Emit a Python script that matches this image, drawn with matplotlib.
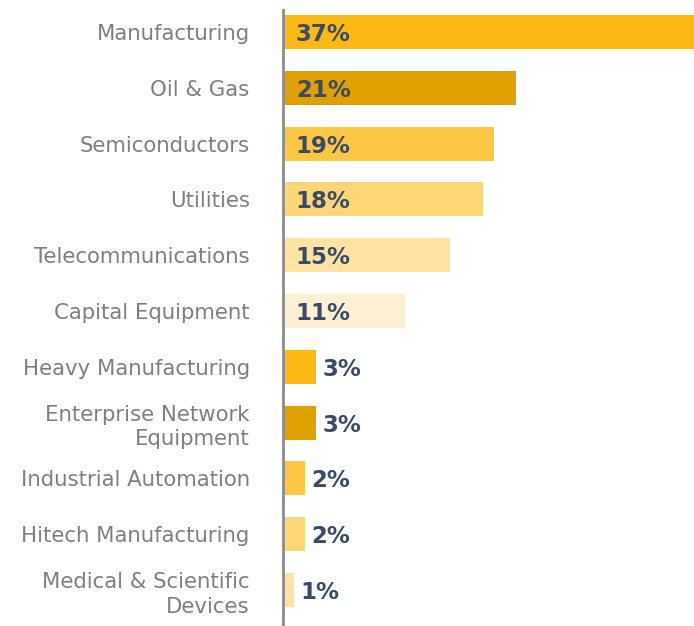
import matplotlib
matplotlib.use("Agg")
from matplotlib import pyplot as plt

categories = ["Manufacturing", "Oil & Gas", "Semiconductors", "Utilities",
              "Telecommunications", "Capital Equipment", "Heavy Manufacturing",
              "Enterprise Network\nEquipment", "Industrial Automation",
              "Hitech Manufacturing", "Medical & Scientific\nDevices"]
shares = [37, 21, 19, 18, 15, 11, 3, 3, 2, 2, 1]
palette = ["#FDB913", "#E0A100", "#FDC743", "#FED676", "#FEE3A2", "#FFF0D3"]

plt.rcParams['font.family'] = ['DejaVu Sans']

fig = plt.figure(figsize=(6.94, 6.26), dpi=100)
ax = fig.add_axes([283 / 694, 0, 411 / 694, 616 / 626])

ys = list(range(len(shares)))
colors = [palette[i % len(palette)] for i in ys]
ax.barh(ys, shares, height=0.61, color=colors)

# big shares get their label inside the bar, small ones just past its end
for y, v in zip(ys, shares):
    x = 1.15 if v >= 10 else v + 0.55
    ax.text(x, y, f"{v}%", ha="left", va="center_baseline",
            fontsize=16.5, fontweight="bold", color="#3B4A66")

ax.set_xlim(0, 37)
ax.set_ylim(10.645, -0.394)
ax.set_yticks(ys)
ax.set_yticklabels(categories, fontsize=15.3, color="#7F7F7F",
                   linespacing=1.3)
ax.tick_params(axis="y", length=0, pad=24)
ax.set_xticks([])
for side in ["top", "right", "bottom"]:
    ax.spines[side].set_visible(False)
ax.spines["left"].set_color("#8C8C8C")
ax.spines["left"].set_linewidth(2)

fig.savefig("out.png", dpi=100)
